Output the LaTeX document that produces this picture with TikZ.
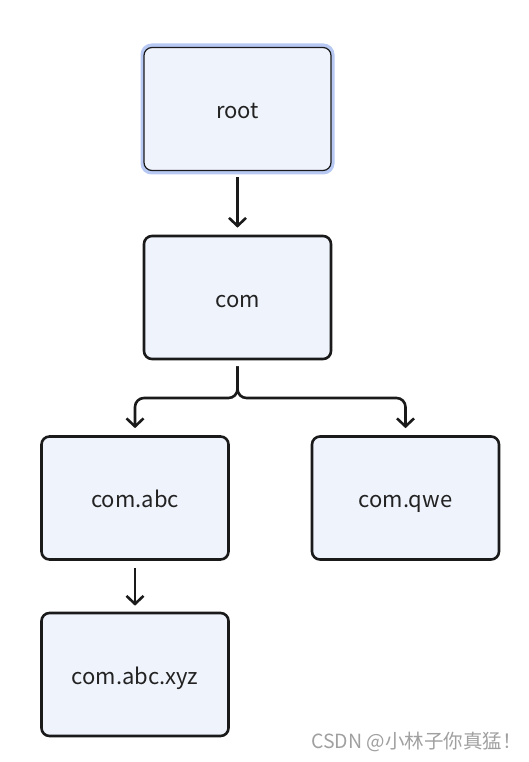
\documentclass[tikz,border=0pt]{standalone}
\usepackage{fontspec}
\setmainfont{Noto Sans CJK SC}
\usetikzlibrary{arrows.meta}
\definecolor{boxfill}{HTML}{EFF3FC}
\definecolor{boxline}{HTML}{1A1A1A}
\definecolor{halo}{HTML}{B7C8F2}
\definecolor{txt}{HTML}{222222}
\definecolor{wm}{HTML}{A0A0A0}
\tikzset{
  box/.style={draw=boxline, line width=2.6pt, fill=boxfill, rounded corners=8pt,
    minimum width=187pt, minimum height=123pt, inner sep=0pt,
    font=\fontsize{22}{24}\selectfont, text=txt, text height=22pt, text depth=3pt},
  rootbox/.style={box, line width=1.2pt},
  conn/.style={draw=boxline, line width=2.6pt, rounded corners=9pt,
    -{Straight Barb[length=8pt,width=17pt,line width=2.6pt]}}
}
\begin{document}
\begin{tikzpicture}[x=1pt,y=-1pt]
\useasboundingbox (0,0) rectangle (528,762);
\fill[halo, rounded corners=11pt] (140.5,43.5) rectangle (334.5,174.5);
\node[rootbox] (root) at (237.5,109) {root};
\node[box] (com) at (237.5,297.5) {com};
\node[box] (abc) at (135,498) {com.abc};
\node[box] (qwe) at (405.5,498) {com.qwe};
\node[box] (xyz) at (135,674.5) {com.abc.xyz};
\coordinate (fork) at (237.5,398);
\draw[conn, shorten <=6pt, shorten >=7pt] (root.south) -- (com.north);
\draw[conn, shorten <=6pt, shorten >=7pt] (com.south) -- (fork) -| (abc.north);
\draw[conn, shorten <=6pt, shorten >=7pt] (com.south) -- (fork) -| (qwe.north);
\draw[conn, shorten <=7pt, shorten >=6pt] (abc.south) -- (xyz.north);
\node[anchor=east, text=wm, font=\fontsize{19.5}{22}\selectfont, inner sep=0pt] (wmark) at (522,742) {CSDN @小林子你真猛！};
\end{tikzpicture}
\end{document}
